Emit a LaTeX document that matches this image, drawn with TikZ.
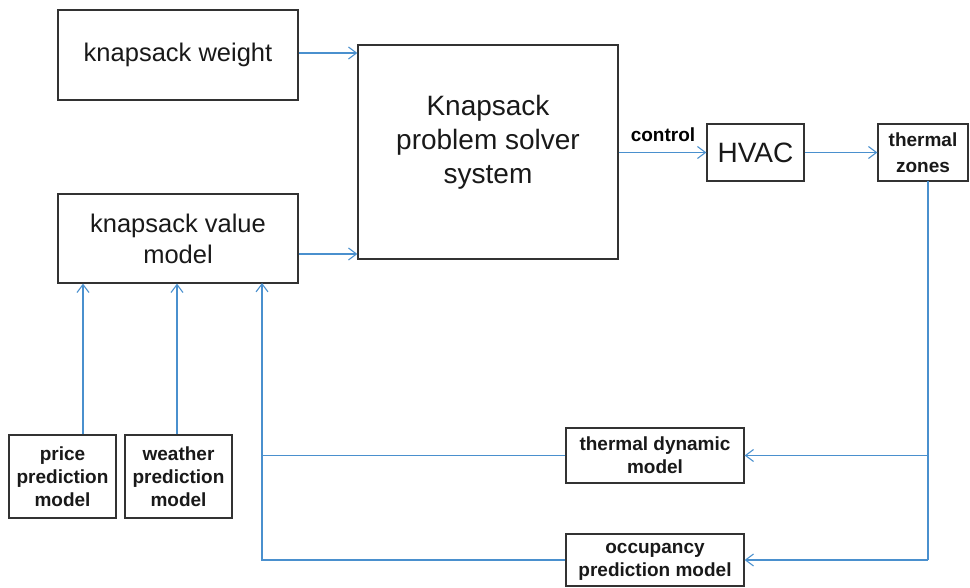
\documentclass[tikz,border=0pt]{standalone}
\usepackage{fontspec}
\setmainfont{Liberation Sans}
\usetikzlibrary{arrows.meta}
\definecolor{lineblue}{RGB}{74,144,206}
\definecolor{boxgray}{RGB}{50,50,50}
\begin{document}
\begin{tikzpicture}[x=1pt,y=-1pt,
  box/.style={draw=boxgray,line width=1.2pt,rectangle,inner sep=0pt,align=center,text=black!90},
  bigtxt/.style={font=\fontsize{25.5}{31}\selectfont},
  hugetxt/.style={font=\fontsize{28}{34}\selectfont},
  smalltxt/.style={font=\bfseries\fontsize{19}{23}\selectfont},
  conn/.style={draw=lineblue,line width=1.1pt},
  arr/.style={conn,-{Straight Barb[length=8pt,width=12pt,line width=1.1pt]}}
]
\useasboundingbox (0,0) rectangle (970,588);
\node[box,bigtxt,minimum width=240pt,minimum height=90pt] (weight) at (178,55) {knapsack weight};
\node[box,bigtxt,minimum width=240pt,minimum height=89pt] (value) at (178,238.5) {knapsack value\\model};
\node[box,hugetxt,minimum width=260pt,minimum height=214pt,text depth=26pt] (solver) at (488,152) {Knapsack\\problem solver\\system};
\node[box,hugetxt,minimum width=97pt,minimum height=57pt] (hvac) at (755.5,152.5) {HVAC};
\node[box,smalltxt,font=\bfseries\fontsize{19}{26}\selectfont,minimum width=90pt,minimum height=57pt] (zones) at (923,152.5) {thermal\\zones};
\node[box,smalltxt,minimum width=178pt,minimum height=55pt] (tdm) at (655,455.5) {thermal dynamic\\model};
\node[box,smalltxt,minimum width=178pt,minimum height=52pt,text depth=0pt] (occ) at (655,560) {occupancy\\prediction model};
\node[box,smalltxt,minimum width=107pt,minimum height=83pt] (price) at (62.5,476.5) {price\\prediction\\model};
\node[box,smalltxt,minimum width=107pt,minimum height=83pt] (weather) at (178.5,476.5) {weather\\prediction\\model};
\node[smalltxt,inner sep=0pt] (ctl) at (663,135) {control};

\coordinate (fbtop) at (262,283);
\coordinate (zdown) at (928,181);

\draw[arr] ([yshift=2pt]weight.east) -- ([yshift=2pt]weight.east -| solver.west);
\draw[arr] ([yshift=-15.5pt]value.east) -- ([yshift=-15.5pt]value.east -| solver.west);
\draw[arr] (solver.east |- hvac.west) -- (hvac.west);
\draw[arr] (hvac.east) -- (zones.west);
\draw[conn] (zdown) -- (zdown |- occ.east);
\draw[arr] (zdown |- tdm.east) -- (tdm.east);
\draw[arr] (zdown |- occ.east) -- (occ.east);
\draw[conn] (tdm.west) -- (tdm.west -| fbtop);
\draw[arr] (occ.west) -| (fbtop);
\draw[arr] ([xshift=20.5pt]price.north) -- ([xshift=20.5pt]price.north |- value.south);
\draw[arr] ([xshift=-1.5pt]weather.north) -- ([xshift=-1.5pt]weather.north |- value.south);
\end{tikzpicture}
\end{document}
